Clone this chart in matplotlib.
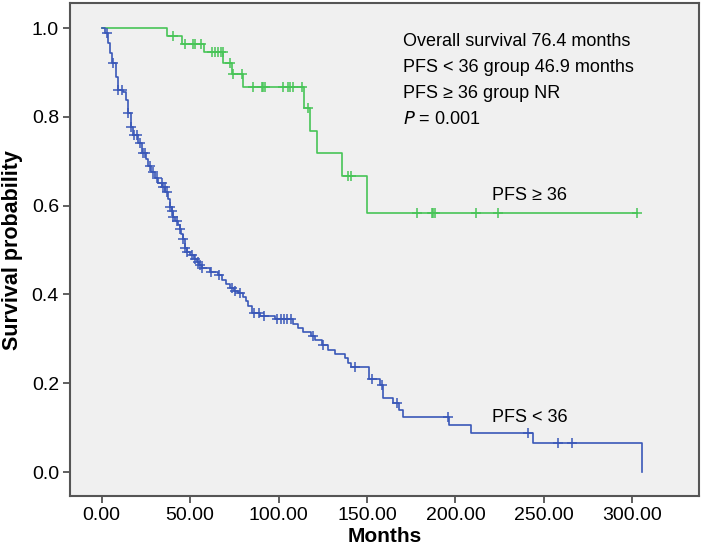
import numpy as np
import matplotlib.pyplot as plt

plt.rcParams['font.family'] = ['Liberation Sans', 'DejaVu Sans']

# PFS >= 36 group: event times (months) and survival after each step
hi_t = [0, 36.9, 45.2, 57.8, 68.8, 73.5, 79.7, 114.4, 117.8, 121.5, 136.0, 150.1]
hi_s = [1.0, 0.983, 0.965, 0.946, 0.922, 0.897, 0.867, 0.820, 0.768, 0.718, 0.668, 0.583]
hi_cens = [40.3, 47.1, 51.6, 52.7, 56.1, 62.2, 64.0, 65.8, 67.5, 68.4, 72.5, 74.2, 79.1,
           85.5, 90.4, 91.1, 92.3, 102.5, 105.3, 106.4, 108.1, 113.0, 116.5, 139.0, 141.0,
           178.1, 186.5, 187.5, 188.4, 211.5, 224.3, 302.4]

# PFS < 36 group
lo_t = [0, 2.0, 3.5, 4.7, 6.0, 7.9, 9.4, 12.2, 13.6, 14.7, 16.6, 17.9, 20.7, 23.0, 25.0,
        26.3, 28.0, 30.1, 32.0, 34.0, 36.0, 37.7, 38.6, 39.6, 40.5, 41.4, 43.0, 44.3, 45.0,
        45.8, 47.1, 48.5, 49.9, 52.0, 53.7, 55.0, 56.5, 61.2, 65.9, 67.8, 70.0, 72.5, 75.0,
        77.2, 80.0, 81.5, 82.9, 84.8, 89.4, 97.9, 108.2, 111.0, 113.9, 118.6, 120.5, 124.3,
        128.0, 131.8, 137.4, 139.3, 141.2, 151.0, 157.2, 159.1, 164.8, 168.2, 170.4, 196.3,
        208.5, 243.6, 305.2]
lo_s = [1.0, 0.989, 0.966, 0.944, 0.921, 0.891, 0.861, 0.857, 0.838, 0.808, 0.778, 0.760,
        0.741, 0.718, 0.705, 0.690, 0.675, 0.662, 0.652, 0.643, 0.630, 0.615, 0.598, 0.588,
        0.575, 0.565, 0.556, 0.548, 0.537, 0.525, 0.505, 0.495, 0.489, 0.481, 0.474, 0.466,
        0.459, 0.451, 0.444, 0.433, 0.424, 0.414, 0.408, 0.403, 0.395, 0.385, 0.373, 0.359,
        0.352, 0.344, 0.334, 0.324, 0.315, 0.307, 0.297, 0.286, 0.275, 0.265, 0.256, 0.245,
        0.237, 0.209, 0.196, 0.166, 0.155, 0.140, 0.125, 0.106, 0.089, 0.066, 0.0]
lo_cens = [2.8, 6.6, 9.4, 11.3, 14.7, 16.6, 18.4, 19.8, 21.7, 23.5, 24.5, 27.3, 29.2, 31.1,
           33.9, 34.8, 35.8, 36.7, 38.6, 39.6, 40.5, 42.4, 44.3, 45.8, 47.1, 48.5, 51.0,
           52.8, 54.6, 55.5, 56.5, 61.8, 66.5, 73.4, 75.3, 78.1, 86.1, 88.9, 91.8, 99.3,
           101.2, 103.1, 104.9, 106.8, 119.6, 125.3, 143.2, 152.6, 158.3, 166.8, 196.0,
           241.2, 258.1, 265.7]

notes = ['Overall survival 76.4 months', 'PFS < 36 group 46.9 months',
         'PFS \u2265 36 group NR']

blue = '#3a58b8'
green = '#47c457'


def surv_at(times, surv, x):
    idx = np.searchsorted(times, x, side='right') - 1
    return np.array(surv)[idx]


fig = plt.figure(figsize=(7.02, 5.49), dpi=100)
ax = fig.add_axes([0.0997, 0.0965, 0.8967, 0.8975])
ax.set_facecolor('#f0f0f0')

# green line runs on to the last censored case
ax.step(hi_t + [hi_cens[-1]], hi_s + [hi_s[-1]], where='post', color=green, lw=1.2)
ax.plot(hi_cens, surv_at(hi_t, hi_s, hi_cens), '+', color=green, ms=6.5, mew=1.1)

ax.step(lo_t, lo_s, where='post', color=blue, lw=1.2)
ax.plot(lo_cens, surv_at(lo_t, lo_s, lo_cens), '+', color=blue, ms=6.5, mew=1.1)

ax.set_xlim(-17.9, 337.9)
ax.set_ylim(-0.054, 1.056)
ax.set_xticks([0, 50, 100, 150, 200, 250, 300])
ax.set_xticklabels(['0.00', '50.00', '100.00', '150.00', '200.00', '250.00', '300.00'])
ax.set_yticks([0.0, 0.2, 0.4, 0.6, 0.8, 1.0])
ax.set_yticklabels(['0.0', '0.2', '0.4', '0.6', '0.8', '1.0'])
ax.tick_params(labelsize=14, length=5, width=1.2, color='#444444', direction='out', pad=3)
for s in ax.spines.values():
    s.set_color('#555555')
    s.set_linewidth(1.5)

ax.set_xlabel('Months', fontsize=15, fontweight='bold', labelpad=2)
ax.set_ylabel('Survival probability', fontsize=15.5, fontweight='bold', labelpad=6)

for i, line in enumerate(notes):
    ax.text(170.3, 0.969 - i * 0.0585, line, fontsize=13, va='center')
ax.text(170.3, 0.794, '$P$ = 0.001', fontsize=13, va='center')

ax.text(220.5, 0.623, 'PFS \u2265 36', fontsize=13, va='center')
ax.text(220.5, 0.122, 'PFS < 36', fontsize=13, va='center')

plt.savefig('out.png', dpi=100)
